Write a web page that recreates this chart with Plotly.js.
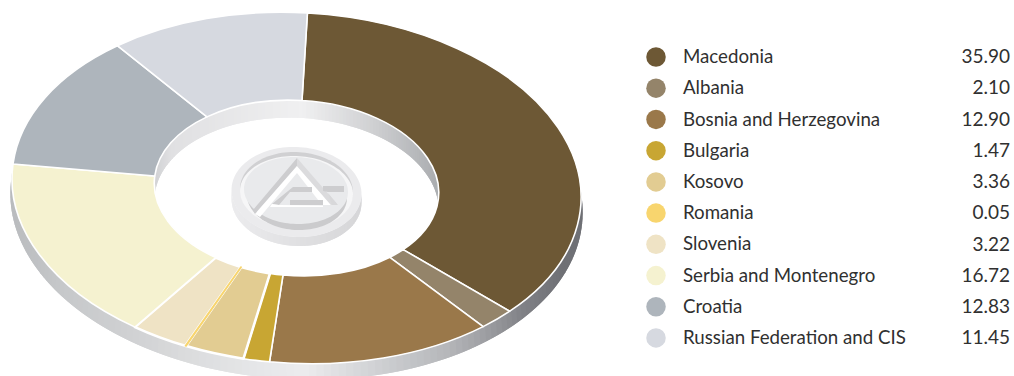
<!DOCTYPE html>
<html>
<head>
<meta charset="utf-8">
<script src="https://cdn.plot.ly/plotly-3.0.1.min.js"></script>
<style>html,body{margin:0;padding:0;background:#fff;overflow:hidden}#chart{width:1014px;height:376px}</style>
</head>
<body>
<div id="chart"></div>
<script>
// Share by origin, in percent
const categories = ['Macedonia','Albania','Bosnia and Herzegovina','Bulgaria','Kosovo','Romania','Slovenia','Serbia and Montenegro','Croatia','Russian Federation and CIS'];
const shares = [35.90,2.10,12.90,1.47,3.36,0.05,3.22,16.72,12.83,11.45];
const sliceColors = ['#6d5835','#94846a','#9a784a','#c8a633','#e2cc92','#f8d56e','#efe3c5','#f5f2d0','#aeb5bc','#d6d9e0'];

const W = 1014, H = 376;

// Tilted disc: unit circle -> page pixels
const disc = {cx:296.5, cy:188, ax:284.5, ay:175.5, shear:9.4, skew:0, hole:0.5, start:2.2};
function project(deg, r) {
  const t = deg*Math.PI/180, ux = r*Math.sin(t), uy = -r*Math.cos(t);
  return [disc.cx + disc.ax*ux + disc.skew*uy, disc.cy + disc.shear*ux + disc.ay*uy];
}

const outerStops = [[0,[182,184,187]],[60,[198,200,202]],[130,[208,209,211]],[190,[220,221,222]],[250,[229,230,232]],[300,[236,236,238]],[400,[197,199,202]],[445,[181,182,185]],[480,[159,160,164]],[520,[128,129,134]],[560,[111,112,117]],[600,[111,112,117]]];
const innerStops = [[150,[205,206,208]],[170,[224,224,226]],[300,[240,240,241]],[370,[208,209,211]],[420,[180,182,185]],[445,[166,169,172]]];
function shade(stops, x) {
  let i = 0;
  while (i < stops.length-2 && x > stops[i+1][0]) i++;
  const [x0,c0] = stops[i], [x1,c1] = stops[i+1];
  const k = Math.max(0, Math.min(1, (x-x0)/(x1-x0)));
  return 'rgb(' + c0.map((v,j)=>Math.round(v+(c1[j]-v)*k)).join(',') + ')';
}
const shapes = [];
function addPath(d, fill) {
  shapes.push({type:'path', xref:'x', yref:'y', layer:'below', path:d, fillcolor:fill, line:{width:0}});
}
// Side wall as overlapping slats, painted in the direction of travel
function wall(r, from, to, depth, flare, stops) {
  const step = 1.5, dir = to > from ? 1 : -1;
  for (let a = from; dir*(a-to) < 0; a += dir*step) {
    const b = dir*(a+2*dir*step-to) > 0 ? to : a+2*dir*step;
    const p = project(a, r), q = project(b, r), p2 = project(a, r*flare), q2 = project(b, r*flare);
    const d = 'M'+p[0]+' '+p[1]+'L'+q[0]+' '+q[1]+'L'+q2[0]+' '+(q2[1]+depth)+'L'+p2[0]+' '+(p2[1]+depth)+'Z';
    addPath(d, shade(stops, p[0]));
  }
}
wall(1, 275, 85, 15, 1.006, outerStops);
wall(disc.hole, -95, 95, 17.5, 1, innerStops);

// Emblem in the centre of the ring
const emblem = {cx:296.5, cy:192, a:65, b:45, lift:9, tilt:0.03};
function rimPoint(deg) {
  const t = deg*Math.PI/180, x = emblem.a*Math.cos(t), y = emblem.b*Math.sin(t);
  return [emblem.cx+x, emblem.cy+y+emblem.tilt*x];
}
function ellipse(cx, cy, a, b) {
  let d = '';
  for (let i = 0; i < 120; i++) {
    const t = i*3*Math.PI/180, x = a*Math.cos(t), y = b*Math.sin(t);
    d += (i?'L':'M') + (cx+x) + ' ' + (cy+y+emblem.tilt*x);
  }
  return d + 'Z';
}
function poly(pts) { return 'M' + pts.map(p=>p.join(' ')).join('L') + 'Z'; }
// coin edge
const edgeStops = [[230,[236,236,238]],[296,[224,224,226]],[362,[214,214,216]]];
for (let a = 180; a > 0; a -= 3) {
  const p = rimPoint(a), q = rimPoint(Math.max(0, a-6));
  addPath(poly([p, q, [q[0], q[1]+emblem.lift], [p[0], p[1]+emblem.lift]]), shade(edgeStops, p[0]));
}
addPath(ellipse(emblem.cx, emblem.cy, emblem.a, emblem.b), '#ebebed');
// recessed ring and raised plate
addPath(ellipse(296.5, 190.5, 56.5, 38.5), '#d0d0d2');
addPath(ellipse(296.5, 192.5, 56.5, 36.5), '#f6f6f7');
addPath(ellipse(297, 196.5, 50, 33.5), '#cbcbcd');
addPath(ellipse(296, 190.5, 52, 33.5), '#e9eaec');
// triangle mark
addPath(poly([[297,158],[253,210],[255,214],[297,166]]), '#cdcdcf');
addPath(poly([[297,166],[255,214],[260,217],[297,173],[322,205],[331,205]]), '#ffffff');
addPath(poly([[297,158],[297,166],[331,205],[337,204]]), '#dbdbdd');
addPath(poly([[293,187],[312,187],[312,192],[290,192],[279,205],[272,204]]), '#cdcdcf');
addPath(poly([[272,204],[279,205],[323,205.5],[323,207],[270,207]]), '#ffffff');
addPath(poly([[290,200],[323,200],[323,205],[290,205]]), '#cdcdcf');
addPath(poly([[323,186],[344,186],[344,192],[328,192],[323,191]]), '#cdcdcf');
addPath(poly([[328,193],[338,205],[332,205]]), '#d8d8da');

// Key rows on the right
const rowTop = 57, rowStep = 31.22, textDrop = 1.5;
const rowY = categories.map((_,i)=>rowTop + i*rowStep);
const labelY = rowY.map(y=>y+textDrop);
const nameFont = {family:'Lato, sans-serif', size:18.7, color:'#303030'};
const valueFont = {family:'Lato, sans-serif', size:19, color:'#303030'};

// Neighbours of the thinnest slice get a slightly wider white edge so it stays readable
const edgeWidths = categories.map((_,i)=> i===4||i===6 ? 2.6 : i===5 ? 1.4 : 1.6);
const edgeColors = categories.map((_,i)=> i===5 ? sliceColors[5] : '#ffffff');

const traces = [
  {type:'pie', values:shares, labels:categories, sort:false, direction:'clockwise', rotation:disc.start, hole:disc.hole,
   domain:{x:[0,0.6], y:[0,1]}, textinfo:'none', hoverinfo:'label+value',
   marker:{colors:sliceColors, line:{color:edgeColors, width:edgeWidths}}},
  {type:'scatter', mode:'markers', x:categories.map(()=>656), y:rowY, hoverinfo:'skip', cliponaxis:false,
   marker:{size:19.5, color:sliceColors, line:{width:0}}},
  {type:'scatter', mode:'text', x:categories.map(()=>683), y:labelY, text:categories, textposition:'middle right', textfont:nameFont, hoverinfo:'skip', cliponaxis:false},
  {type:'scatter', mode:'text', x:categories.map(()=>1010), y:labelY, text:shares.map(v=>v.toFixed(2)), textposition:'middle left', textfont:valueFont, hoverinfo:'skip', cliponaxis:false}
];

const layout = {
  width:W, height:H, margin:{l:0,r:0,t:0,b:0}, showlegend:false,
  paper_bgcolor:'#ffffff', plot_bgcolor:'#ffffff',
  xaxis:{range:[0,W], visible:false, fixedrange:true},
  yaxis:{range:[H,0], visible:false, fixedrange:true},
  shapes:shapes
};

Plotly.newPlot('chart', traces, layout, {displayModeBar:false, staticPlot:true}).then(gd => {
  // The pie is laid out as a flat circle; tip it into the disc's plane.
  const pcx = 0.3*W, pcy = H/2, pr = H/2;
  const a = disc.ax/pr, b = disc.shear/pr, c = disc.skew/pr, d = disc.ay/pr;
  const e = disc.cx - a*pcx - c*pcy, f = disc.cy - b*pcx - d*pcy;
  const layer = gd.querySelector('.pielayer');
  layer.setAttribute('transform', 'matrix('+[a,b,c,d,e,f].join(',')+')');
  layer.querySelectorAll('path').forEach(p => p.style.vectorEffect = 'non-scaling-stroke');
  // Keep the thinnest slice above its neighbours' edges.
  const slices = layer.querySelectorAll('g.slice');
  if (slices[5]) slices[5].parentNode.appendChild(slices[5]);
});
</script>
</body>
</html>
